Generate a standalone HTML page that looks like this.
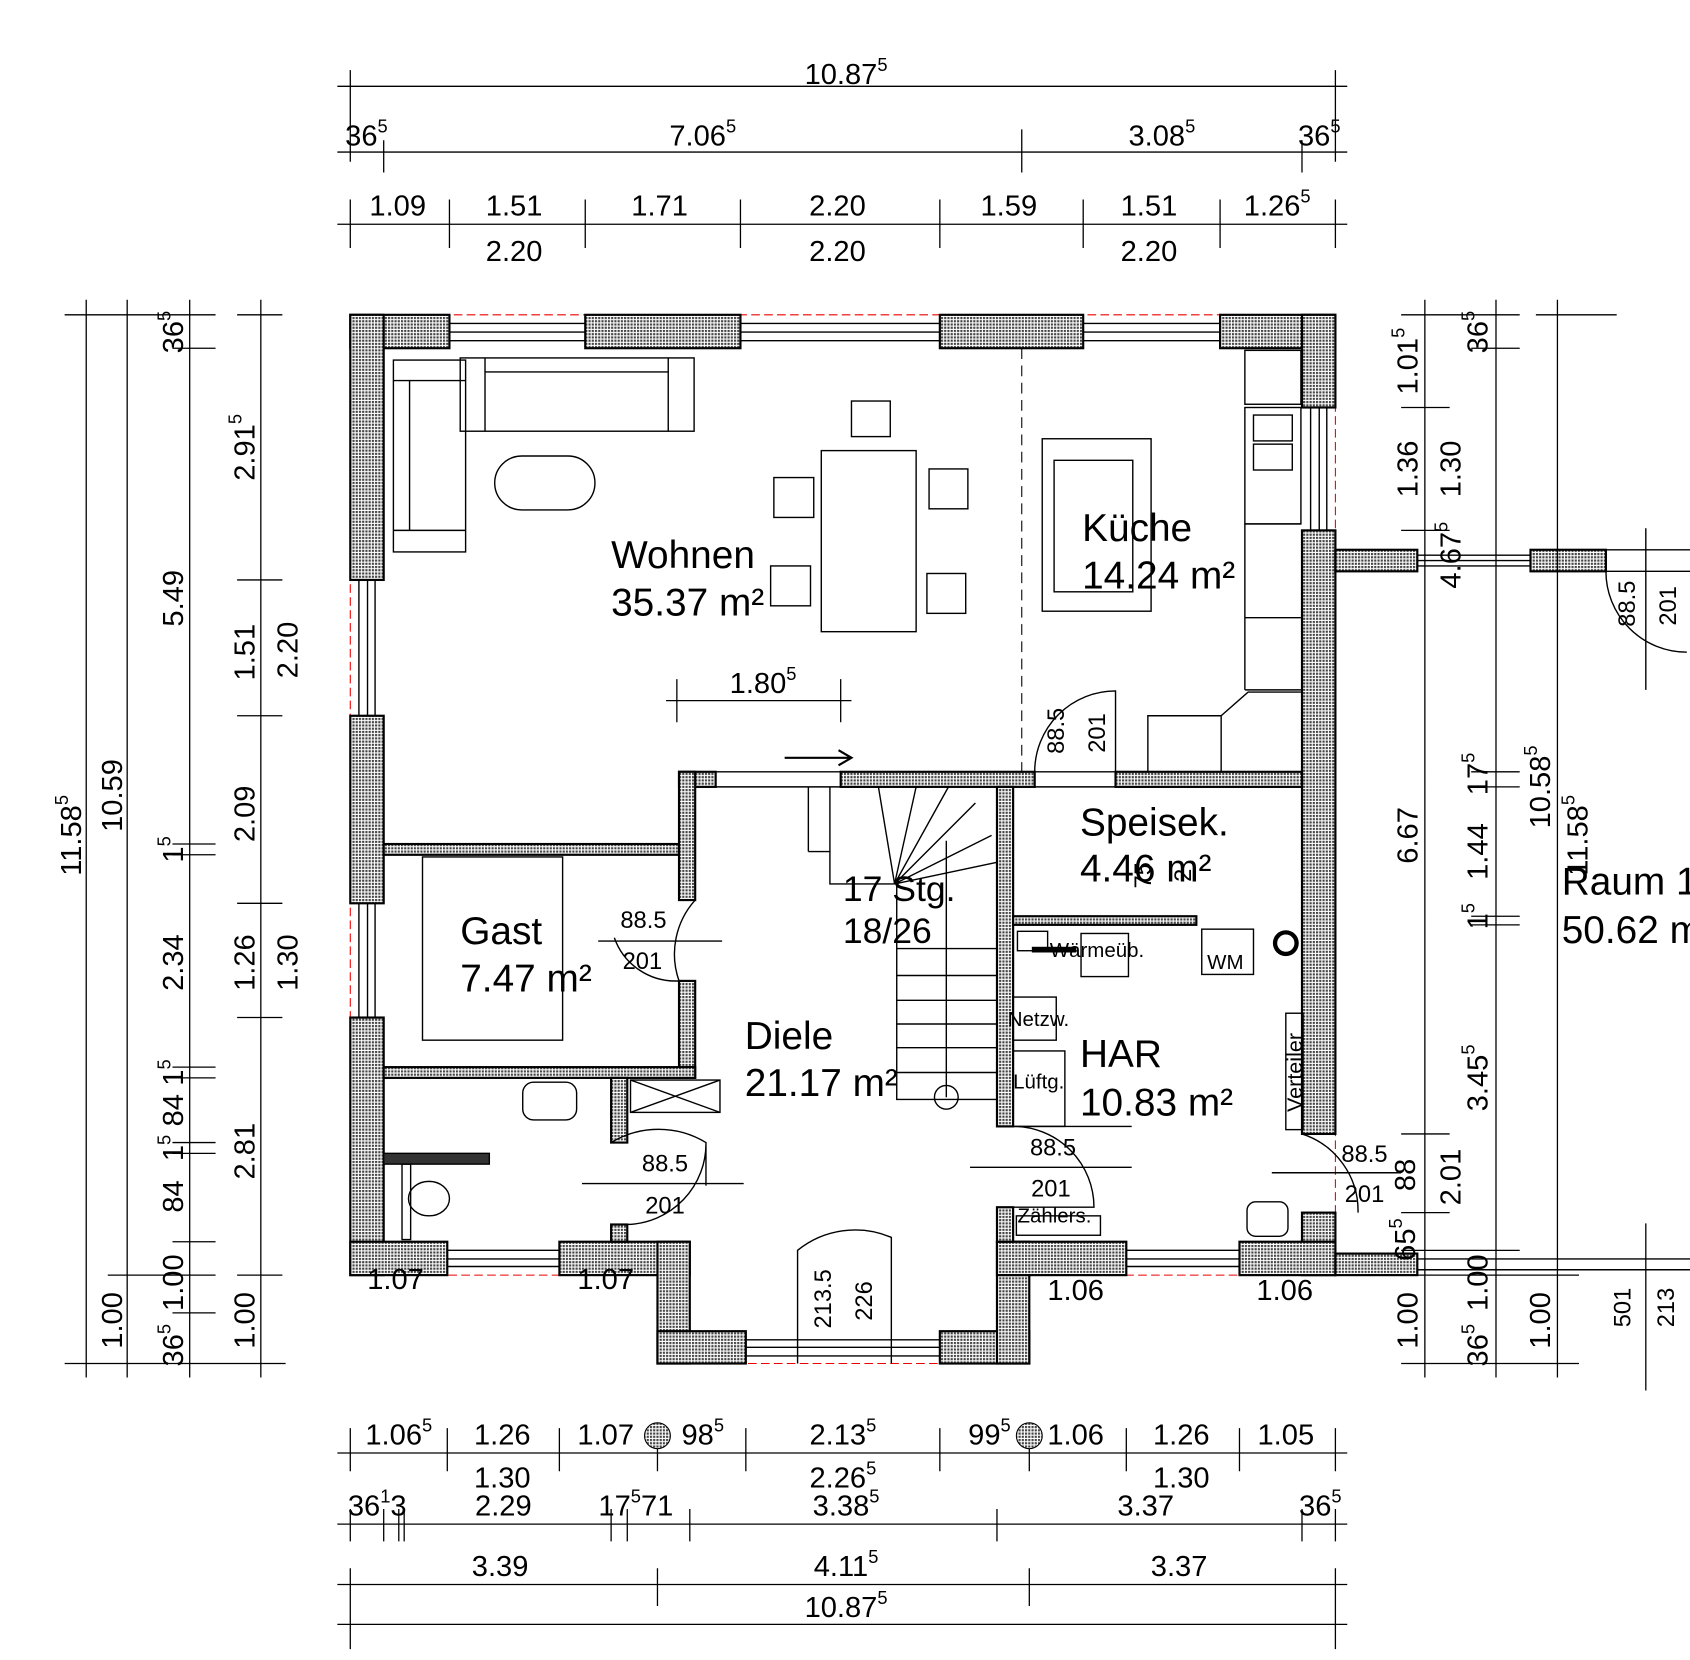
<!DOCTYPE html>
<html><head><meta charset="utf-8"><style>html,body{margin:0;padding:0;background:#fff}svg{display:block}text{font-family:"Liberation Sans",sans-serif;fill:#000}</style></head><body>
<svg width="1690" height="1660" viewBox="0 0 1568 1540" xmlns="http://www.w3.org/2000/svg">
<defs>
<pattern id="h" width="3" height="3" patternUnits="userSpaceOnUse"><rect width="3" height="3" fill="#fff"/><rect width="2" height="2" fill="#444"/></pattern>
</defs>
<g stroke="#000" stroke-width="1.3" fill="none">
<path d="M325,292 H1239 V1183 H955 V1265 H610 V1183 H325 Z" stroke="#e00" stroke-dasharray="8,4" stroke-width="1"/>
<g fill="url(#h)" stroke-width="2">
<rect x="325" y="292" width="92" height="31"/><rect x="543" y="292" width="144" height="31"/><rect x="872" y="292" width="133" height="31"/><rect x="1132" y="292" width="107" height="31"/>
<rect x="325" y="292" width="31" height="246"/><rect x="325" y="664" width="31" height="174"/><rect x="325" y="944" width="31" height="239"/>
<rect x="1208" y="292" width="31" height="86"/><rect x="1208" y="492" width="31" height="560"/><rect x="1208" y="1125" width="31" height="58"/>
<rect x="325" y="1152" width="90" height="31"/><rect x="519" y="1152" width="121" height="31"/><rect x="610" y="1152" width="30" height="113"/><rect x="610" y="1235" width="82" height="30"/>
<rect x="872" y="1235" width="83" height="30"/><rect x="925" y="1152" width="30" height="113"/><rect x="925" y="1152" width="120" height="31"/><rect x="1150" y="1152" width="89" height="31"/>
<rect x="630" y="716" width="34" height="14"/><rect x="780" y="716" width="180" height="14"/><rect x="1035" y="716" width="173" height="14"/>
<rect x="356" y="783" width="274" height="10"/><rect x="630" y="716" width="15" height="119"/><rect x="630" y="910" width="15" height="90"/>
<rect x="356" y="990" width="289" height="10"/><rect x="567" y="1000" width="15" height="60"/><rect x="567" y="1136" width="15" height="16"/>
<rect x="925" y="730" width="15" height="315"/><rect x="925" y="1120" width="15" height="32"/>
<rect x="940" y="850" width="170" height="8"/>
<rect x="1239" y="510" width="76" height="20"/><rect x="1420" y="510" width="70" height="20"/><rect x="1239" y="1163" width="76" height="20"/>
</g>
<path d="M417,300H543M417,308H543M417,316H543M687,300H872M687,308H872M687,316H872M1005,300H1132M1005,308H1132M1005,316H1132"/>
<path d="M333,538V664M341,538V664M348,538V664M333,838V944M341,838V944M348,838V944M1216,378V492M1224,378V492M1231,378V492"/>
<path d="M415,1160H519M415,1168H519M415,1175H519M1045,1160H1150M1045,1168H1150M1045,1175H1150M692,1243H872M692,1250H872M692,1258H872"/>
<path d="M1315,515H1420M1315,520H1420M1315,525H1420M1490,510H1568M1490,530H1568M1315,1168H1568M1315,1178H1568"/>
<path d="M664,716H780M664,730H780M960,716H1035M960,730H1035"/>
<path d="M948,323V716" stroke-dasharray="10,6" stroke-width="1"/>
<rect x="365" y="334" width="67" height="178"/><path d="M365,353H432M380,353V492M365,492H432"/>
<rect x="427" y="332" width="217" height="68"/><path d="M450,332V400M620,332V400M450,345H620"/>
<rect x="459" y="423" width="93" height="50" rx="25"/>
<rect x="762" y="418" width="88" height="168"/><rect x="790" y="372" width="36" height="33"/><rect x="718" y="443" width="37" height="37"/><rect x="862" y="435" width="36" height="37"/><rect x="715" y="525" width="37" height="37"/><rect x="860" y="532" width="36" height="37"/>
<rect x="967" y="407" width="101" height="160"/><rect x="978" y="427" width="73" height="122"/>
<rect x="1155" y="325" width="52" height="50"/><rect x="1155" y="378" width="52" height="108"/><rect x="1163" y="385" width="36" height="24"/><rect x="1163" y="412" width="36" height="24"/>
<path d="M1155,486H1207M1155,573H1207M1155,640H1207M1155,486V640"/><path d="M1133,716V664H1065V716M1133,664L1158,642H1207"/>
<rect x="392" y="795" width="130" height="170"/>
<rect x="585" y="1002" width="83" height="30"/><path d="M585,1002L668,1032M668,1002L585,1032"/>
<rect x="485" y="1004" width="50" height="35" rx="10"/><rect x="356" y="1070" width="98" height="10" fill="#333"/><rect x="373" y="1080" width="8" height="70"/><ellipse cx="398" cy="1112" rx="19" ry="16"/>
<path d="M750,730V790M750,790H770M770,730V820H830M832,820V1020H925M832,880H925M832,905H925M832,928H925M832,950H925M832,972H925M832,995H925"/>
<path d="M830,820L925,800M830,820L920,775M830,820L905,745M830,820L880,730M830,820L850,730M830,820L815,730"/>
<circle cx="878" cy="1018" r="11"/><path d="M878,1018V780"/>
<path d="M728,703H788M778,696L790,703L778,710" stroke-width="2"/>
<path d="M960,716A75,75 0 0 1 1035,641V716M555,873H670M645,835A75,75 0 0 0 630,910M570,870A60,60 0 0 0 630,910M940,1045H1050M940,1045A75,75 0 0 1 1015,1120H940M567,1060A85,85 0 0 1 655,1060V1100M540,1098H690M582,1136A75,75 0 0 0 655,1060M900,1083H1050M1208,1052A75,75 0 0 1 1260,1125M1180,1088H1300M740,1265V1160A85,85 0 0 1 827,1148V1265M1490,530A75,75 0 0 0 1565,605M1527,490V640"/>
<rect x="944" y="864" width="28" height="18"/><rect x="958" y="879" width="40" height="4" fill="#000"/><rect x="1003" y="866" width="44" height="40"/><rect x="1115" y="862" width="48" height="42"/><circle cx="1193" cy="875" r="10" stroke-width="4"/>
<rect x="940" y="925" width="40" height="40"/><rect x="940" y="975" width="48" height="70"/><rect x="1193" y="940" width="16" height="108"/><rect x="943" y="1128" width="78" height="18"/><rect x="1157" y="1115" width="38" height="32" rx="8"/>
<g stroke-width="1.2">
<path d="M313,80H1250M313,141H1250M313,208H1250M313,1348H1250M313,1414H1250M313,1470H1250M313,1507H1250"/>
<path d="M325,65V150M1239,65V150M356,130V160M948,120V160M1208,130V160M325,185V230M417,185V230M543,185V230M687,185V230M872,185V230M1005,185V230M1132,185V230M1239,185V230"/>
<path d="M325,1325V1365M415,1325V1365M519,1325V1365M610,1325V1365M692,1325V1365M872,1325V1365M955,1325V1365M1045,1325V1365M1150,1325V1365M1239,1325V1365M325,1400V1430M356,1400V1430M370,1400V1430M375,1400V1430M567,1400V1430M582,1400V1430M640,1400V1430M925,1400V1430M1208,1400V1430M1239,1400V1430M325,1455V1530M610,1455V1490M955,1455V1490M1239,1455V1530"/>
<path d="M80,278V1278M118,278V1278M176,278V1278M242,278V1278M60,292H200M60,1265H265M100,1183H200M160,323H200M160,783H200M160,793H200M160,990H200M160,1000H200M160,1060H200M160,1070H200M160,1152H200M160,1218H200M220,538H262M220,664H262M220,838H262M220,944H262M220,1183H262M220,292H262"/>
<path d="M1322,278V1278M1388,278V1278M1445,278V1278M1527,1135V1290M1300,292H1410M1300,378H1345M1300,492H1345M1300,1052H1345M1300,1125H1345M1300,1160H1410M1300,1183H1465M1300,1265H1465M1365,323H1410M1365,716H1410M1365,730H1410M1365,850H1410M1365,858H1410M1425,292H1500M618,650H790M628,630V670M780,630V670"/>
</g>
</g>
<g font-size="27" text-anchor="middle">
<text x="785" y="78">10.87<tspan font-size="17" dy="-12">5</tspan></text>
<text x="340" y="135">36<tspan font-size="17" dy="-12">5</tspan></text><text x="652" y="135">7.06<tspan font-size="17" dy="-12">5</tspan></text><text x="1078" y="135">3.08<tspan font-size="17" dy="-12">5</tspan></text><text x="1224" y="135">36<tspan font-size="17" dy="-12">5</tspan></text>
<text x="369" y="200">1.09</text><text x="477" y="200">1.51</text><text x="612" y="200">1.71</text><text x="777" y="200">2.20</text><text x="936" y="200">1.59</text><text x="1066" y="200">1.51</text><text x="1185" y="200">1.26<tspan font-size="17" dy="-12">5</tspan></text>
<text x="477" y="242">2.20</text><text x="777" y="242">2.20</text><text x="1066" y="242">2.20</text>
<text x="370" y="1340">1.06<tspan font-size="17" dy="-12">5</tspan></text><text x="466" y="1340">1.26</text><text x="562" y="1340">1.07</text><text x="652" y="1340">98<tspan font-size="17" dy="-12">5</tspan></text><text x="782" y="1340">2.13<tspan font-size="17" dy="-12">5</tspan></text><text x="918" y="1340">99<tspan font-size="17" dy="-12">5</tspan></text><text x="998" y="1340">1.06</text><text x="1096" y="1340">1.26</text><text x="1193" y="1340">1.05</text>
<text x="466" y="1380">1.30</text><text x="782" y="1380">2.26<tspan font-size="17" dy="-12">5</tspan></text><text x="1096" y="1380">1.30</text>
<text x="350" y="1406">36<tspan font-size="17" dy="-12">1</tspan><tspan dy="12">3</tspan></text><text x="467" y="1406">2.29</text><text x="590" y="1406">17<tspan font-size="17" dy="-12">5</tspan><tspan dy="12">71</tspan></text><text x="785" y="1406">3.38<tspan font-size="17" dy="-12">5</tspan></text><text x="1063" y="1406">3.37</text><text x="1225" y="1406">36<tspan font-size="17" dy="-12">5</tspan></text>
<text x="464" y="1462">3.39</text><text x="785" y="1462">4.11<tspan font-size="17" dy="-12">5</tspan></text><text x="1094" y="1462">3.37</text>
<text x="785" y="1500">10.87<tspan font-size="17" dy="-12">5</tspan></text>
<text x="367" y="1196">1.07</text><text x="562" y="1196">1.07</text><text x="998" y="1206">1.06</text><text x="1192" y="1206">1.06</text><text x="708" y="643">1.80<tspan font-size="17" dy="-12">5</tspan></text>
</g>
<circle cx="610" cy="1332" r="12" fill="url(#h)" stroke="#000"/><circle cx="955" cy="1332" r="12" fill="url(#h)" stroke="#000"/>
<g font-size="27" text-anchor="middle">
<text transform="translate(75,775) rotate(-90)">11.58<tspan font-size="17" dy="-12">5</tspan></text>
<text transform="translate(113,738) rotate(-90)">10.59</text>
<text transform="translate(113,1225) rotate(-90)">1.00</text>
<text transform="translate(170,308) rotate(-90)">36<tspan font-size="17" dy="-12">5</tspan></text>
<text transform="translate(170,555) rotate(-90)">5.49</text>
<text transform="translate(170,788) rotate(-90)">1<tspan font-size="17" dy="-12">5</tspan></text>
<text transform="translate(170,893) rotate(-90)">2.34</text>
<text transform="translate(170,995) rotate(-90)">1<tspan font-size="17" dy="-12">5</tspan></text>
<text transform="translate(170,1030) rotate(-90)">84</text>
<text transform="translate(170,1065) rotate(-90)">1<tspan font-size="17" dy="-12">5</tspan></text>
<text transform="translate(170,1110) rotate(-90)">84</text>
<text transform="translate(170,1190) rotate(-90)">1.00</text>
<text transform="translate(170,1248) rotate(-90)">36<tspan font-size="17" dy="-12">5</tspan></text>
<text transform="translate(236,415) rotate(-90)">2.91<tspan font-size="17" dy="-12">5</tspan></text>
<text transform="translate(236,605) rotate(-90)">1.51</text>
<text transform="translate(236,755) rotate(-90)">2.09</text>
<text transform="translate(236,893) rotate(-90)">1.26</text>
<text transform="translate(236,1068) rotate(-90)">2.81</text>
<text transform="translate(236,1225) rotate(-90)">1.00</text>
<text transform="translate(276,603) rotate(-90)">2.20</text>
<text transform="translate(276,893) rotate(-90)">1.30</text>
<text transform="translate(1315,335) rotate(-90)">1.01<tspan font-size="17" dy="-12">5</tspan></text>
<text transform="translate(1315,435) rotate(-90)">1.36</text>
<text transform="translate(1315,775) rotate(-90)">6.67</text>
<text transform="translate(1313,1090) rotate(-90)">88</text>
<text transform="translate(1313,1150) rotate(-90)">65<tspan font-size="17" dy="-12">5</tspan></text>
<text transform="translate(1315,1225) rotate(-90)">1.00</text>
<text transform="translate(1355,515) rotate(-90)">4.67<tspan font-size="17" dy="-12">5</tspan></text>
<text transform="translate(1355,435) rotate(-90)">1.30</text>
<text transform="translate(1355,1092) rotate(-90)">2.01</text>
<text transform="translate(1380,308) rotate(-90)">36<tspan font-size="17" dy="-12">5</tspan></text>
<text transform="translate(1380,718) rotate(-90)">17<tspan font-size="17" dy="-12">5</tspan></text>
<text transform="translate(1380,790) rotate(-90)">1.44</text>
<text transform="translate(1380,850) rotate(-90)">1<tspan font-size="17" dy="-12">5</tspan></text>
<text transform="translate(1380,1000) rotate(-90)">3.45<tspan font-size="17" dy="-12">5</tspan></text>
<text transform="translate(1380,1190) rotate(-90)">1.00</text>
<text transform="translate(1380,1248) rotate(-90)">36<tspan font-size="17" dy="-12">5</tspan></text>
<text transform="translate(1438,730) rotate(-90)">10.58<tspan font-size="17" dy="-12">5</tspan></text>
<text transform="translate(1438,1225) rotate(-90)">1.00</text>
<text transform="translate(1473,775) rotate(-90)">11.58<tspan font-size="17" dy="-12">5</tspan></text>
</g>
<g font-size="22" text-anchor="middle">
<text transform="translate(987,678) rotate(-90)">88.5</text><text transform="translate(1025,680) rotate(-90)">201</text>
<text transform="translate(1517,560) rotate(-90)">88.5</text><text transform="translate(1555,562) rotate(-90)">201</text>
<text transform="translate(1068,812) rotate(-90)">75</text><text transform="translate(1105,812) rotate(-90)">2</text>
<text transform="translate(771,1205) rotate(-90)">213.5</text><text transform="translate(809,1207) rotate(-90)">226</text>
<text transform="translate(1513,1213) rotate(-90)">501</text><text transform="translate(1553,1213) rotate(-90)">213</text>
<text transform="translate(1208,995) rotate(-90)" font-size="20">Verteiler</text>
<text x="597" y="861">88.5</text><text x="596" y="899">201</text>
<text x="617" y="1087">88.5</text><text x="617" y="1126">201</text>
<text x="977" y="1072">88.5</text><text x="975" y="1110">201</text>
<text x="1266" y="1078">88.5</text><text x="1266" y="1115">201</text>
</g>
<g font-size="19">
<text x="974" y="888">Wärmeüb.</text><text x="1120" y="899">WM</text><text x="935" y="952">Netzw.</text><text x="940" y="1010">Lüftg.</text><text x="944" y="1134">Zählers.</text>
</g>
<g font-size="36">
<text x="567" y="527">Wohnen</text><text x="567" y="571">35.37 m²</text>
<text x="1004" y="502">Küche</text><text x="1004" y="546">14.24 m²</text>
<text x="1002" y="775">Speisek.</text><text x="1002" y="818">4.46 m²</text>
<text x="427" y="876">Gast</text><text x="427" y="920">7.47 m²</text>
<text x="691" y="973">Diele</text><text x="691" y="1017">21.17 m²</text>
<text x="1002" y="990">HAR</text><text x="1002" y="1035">10.83 m²</text>
<text x="782" y="836" font-size="33">17 Stg.</text><text x="782" y="875" font-size="33">18/26</text>
<text x="1449" y="830">Raum 1</text><text x="1449" y="875">50.62 m²</text>
</g>
</svg>
</body></html>
